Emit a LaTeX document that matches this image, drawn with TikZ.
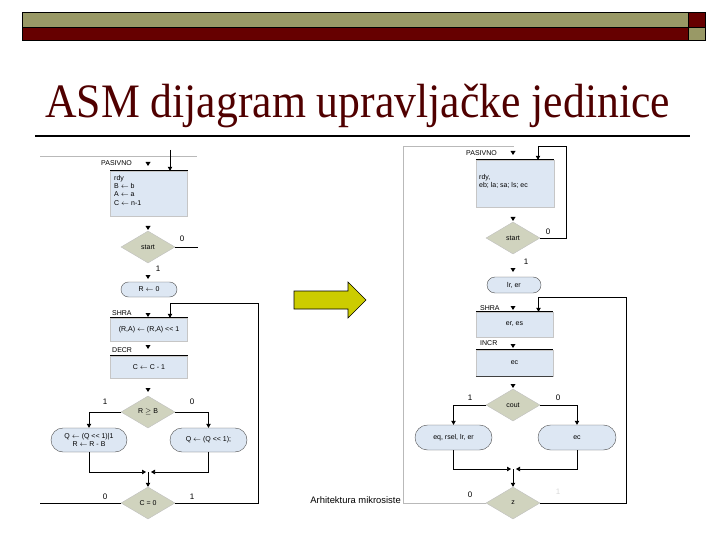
\documentclass[tikz,border=0pt]{standalone}
\usepackage{fontspec}
\setmainfont{Liberation Serif}
\setsansfont{Liberation Sans}
\usetikzlibrary{arrows.meta,shapes.geometric}

\definecolor{olivebar}{RGB}{153,153,102}
\definecolor{redbar}{RGB}{102,0,0}
\definecolor{titlec}{RGB}{80,0,0}
\definecolor{statec}{RGB}{221,231,243}
\definecolor{condc}{RGB}{208,211,190}
\definecolor{arrowc}{RGB}{204,204,0}

% small state-entry marker
\newcommand{\dtri}[1]{\fill (#1) ++(-2.5,-2) -- ++(5,0) -- ++(-2.5,4) -- cycle;}
% shift left, without the guillemet ligature
\newcommand{\shl}{{<}{<}}

\begin{document}
\begin{tikzpicture}[x=1pt,y=-1pt,>={Triangle[width=4.5pt,length=4pt]},
  txt/.style={font=\sffamily\fontsize{7}{8.3}\selectfont,inner sep=0pt},
  num/.style={font=\sffamily\fontsize{8}{9}\selectfont,inner sep=0pt},
  stbox/.style={rectangle,fill=statec,draw=gray!45,minimum width=77pt,inner sep=0pt,txt},
  cond/.style={diamond,fill=condc,draw=gray!50,minimum width=54pt,minimum height=32pt,inner sep=0pt,txt},
  term/.style={rectangle,fill=statec,draw=gray!60!black,inner sep=0pt,txt,align=center},
  conn/.style={->,line width=0.7pt},
  topline/.style={line width=0.9pt},
  gline/.style={gray!55,line width=0.7pt}]

  \useasboundingbox (0,0) rectangle (720,540);

  % ---- header bar ----
  \fill[olivebar] (22,12) rectangle (688,27);
  \fill[redbar] (688,12) rectangle (705,27);
  \fill[redbar] (22,27) rectangle (688,40);
  \fill[olivebar] (688,27) rectangle (705,40);
  \draw[line width=0.8pt] (22,12) rectangle (705,40) (22,27) -- (705,27) (688,12) -- (688,40);

  % ---- title ----
  \node[font=\fontsize{48}{48}\selectfont,text=titlec,anchor=base west,inner sep=0pt] (title) at (45,118)
    {\scalebox{0.91}[1]{ASM dijagram upravljačke jedinice}};
  \draw[line width=1.5pt] (35,136) -- (690,136);

  % ---- left: ASM of the divider ----
  \draw[gline] (40,156) -- (197,156);
  \coordinate (lIn) at (170,150);
  \node[txt,anchor=west] (lPasLab) at (101,163) {PASIVNO};
  \node[stbox,minimum height=45pt] (lPas) at (149,193.5) {};
  \draw[topline] (lPas.north west) -- (lPas.north east);
  \node[txt,anchor=north west,align=left] (lPasTxt) at (114,175)
    {rdy\\B $\leftarrow$ b\\A $\leftarrow$ a\\C $\leftarrow$ n-1};
  \draw[conn] (lIn) -- (lIn |- lPas.north);

  \node[cond] (lStart) at (148,247) {start};
  \coordinate (lStartOut) at (198,247);
  \draw[line width=0.7pt] (lStart.east) -- (lStartOut);
  \node[num] (lStart0) at (182,239) {0};
  \node[num] (lStart1) at (158,269) {1};
  \node[term,minimum width=56pt,minimum height=15pt,rounded corners=7.5pt] (lR0) at (149,289.5) {R $\leftarrow$ 0};

  \coordinate (lLoop) at (258,303);
  \node[txt,anchor=west] (lShraLab) at (112,313) {SHRA};
  \node[stbox,minimum height=23pt] (lShra) at (149,329.5) {(R,A) $\leftarrow$ (R,A) \shl{} 1};
  \draw[topline] (lShra.north west) -- (lShra.north east);
  \node[txt,anchor=west] (lDecrLab) at (112,350) {DECR};
  \node[stbox,minimum height=22pt] (lDecr) at (149,367) {C $\leftarrow$ C - 1};
  \draw[topline] (lDecr.north west) -- (lDecr.north east);

  \node[cond] (lCmp) at (148,412) {R $\geq$ B};
  \node[num] (lCmp1) at (105,402) {1};
  \node[num] (lCmp0) at (192,402) {0};
  \node[term,minimum width=76pt,minimum height=24pt,rounded corners=12pt] (lQ1) at (89,440)
    {Q $\leftarrow$ (Q \shl{} 1)|1\\R $\leftarrow$ R - B};
  \node[term,minimum width=77pt,minimum height=24pt,rounded corners=12pt] (lQ0) at (208.5,440)
    {Q $\leftarrow$ (Q \shl{} 1);};
  \draw[conn] (lCmp.west) -| (lQ1.north);
  \draw[conn] (lCmp.east) -| (lQ0.north);
  \coordinate (lMerge) at (148,472);
  \draw[conn] (lQ1.south) |- ([xshift=-2pt]lMerge);
  \draw[conn] (lQ0.south) |- ([xshift=3pt]lMerge);
  \node[cond] (lC0) at (148,503) {C = 0};
  \draw[conn] (lMerge) -- (lC0.north);
  \coordinate (lOut0) at (40,503);
  \draw[line width=0.7pt] (lC0.west) -- (lOut0);
  \node[num] (lC00) at (105,497) {0};
  \node[num] (lC01) at (192,497) {1};
  \draw[conn] (lC0.east) -| (lLoop) -| ([xshift=21pt]lShra.north);

  \foreach \y in {164,228,277,315,347,390} { \dtri{148,\y} }

  % ---- block arrow ----
  \draw[fill=arrowc,line width=0.6pt] (294,291) -- (348,291) -- (348,282) -- (366,300)
    -- (348,318) -- (348,309) -- (294,309) -- cycle;
  \node[font=\sffamily\fontsize{9.4}{10}\selectfont,anchor=base east,inner sep=0pt] (footer) at (401,503)
    {Arhitektura mikrosiste};

  % ---- right: ASM of the control unit ----
  \coordinate (rBackT) at (403,146);
  \coordinate (rBackE) at (514,146);
  \draw[gline] (rBackT) -- (rBackE);
  \node[txt,anchor=west] (rPasLab) at (466,153) {PASIVNO};
  \node[stbox,minimum width=78pt,minimum height=47pt] (rPas) at (515,183.5) {};
  \draw[topline] (rPas.north west) -- (rPas.north east);
  \node[txt,anchor=north west,align=left] (rPasTxt) at (479,174) {rdy,\\eb; la; sa; ls; ec};

  \coordinate (rLoop0) at (566,146);
  \node[cond] (rStart) at (513,238) {start};
  \draw[conn] (rStart.east) -| (rLoop0) -| ([xshift=23pt]rPas.north);
  \node[num] (rStart0) at (548,232) {0};
  \node[num] (rStart1) at (526,262) {1};
  \node[term,minimum width=54pt,minimum height=16pt,rounded corners=8pt] (rLr) at (514,285) {lr, er};

  \coordinate (rLoop) at (626,297);
  \node[txt,anchor=west] (rShraLab) at (480,308) {SHRA};
  \node[stbox,minimum height=25pt] (rShra) at (514.5,324.5) {er, es};
  \draw[topline] (rShra.north west) -- (rShra.north east);
  \node[txt,anchor=west] (rIncrLab) at (480,343) {INCR};
  \node[stbox,minimum height=26pt] (rIncr) at (514.5,363) {ec};
  \draw[topline] (rIncr.north west) -- (rIncr.north east);
  \draw[line width=1.2pt,gray!50!black] (rIncr.south west) -- (rIncr.south east);

  \node[cond] (rCout) at (513,405) {cout};
  \node[num] (rCout1) at (470,398) {1};
  \node[num] (rCout0) at (558,398) {0};
  \node[term,minimum width=77pt,minimum height=25pt,rounded corners=12.5pt] (rEq) at (453.5,437.5) {eq, rsel, lr, er};
  \node[term,minimum width=78pt,minimum height=25pt,rounded corners=12.5pt] (rEc) at (577,437.5) {ec};
  \draw[conn] (rCout.west) -| (rEq.north);
  \draw[conn] (rCout.east) -| (rEc.north);
  \coordinate (rMerge) at (513,469);
  \draw[conn] (rEq.south) |- ([xshift=-2pt]rMerge);
  \draw[conn] (rEc.south) |- ([xshift=3pt]rMerge);
  \node[cond] (rZ) at (513,503) {z};
  \draw[conn] (rMerge) -- (rZ.north);
  \draw[gline] (rZ.west) -| (rBackT);
  \draw[conn] (rZ.east) -| (rLoop) -| ([xshift=24pt]rShra.north);
  \node[num] (rZ0) at (470,495) {0};
  \node[num,text=gray!30] (rZ1) at (558,492) {1};

  \foreach \y in {153,219,270,308,346,386} { \dtri{513,\y} }
\end{tikzpicture}
\end{document}
